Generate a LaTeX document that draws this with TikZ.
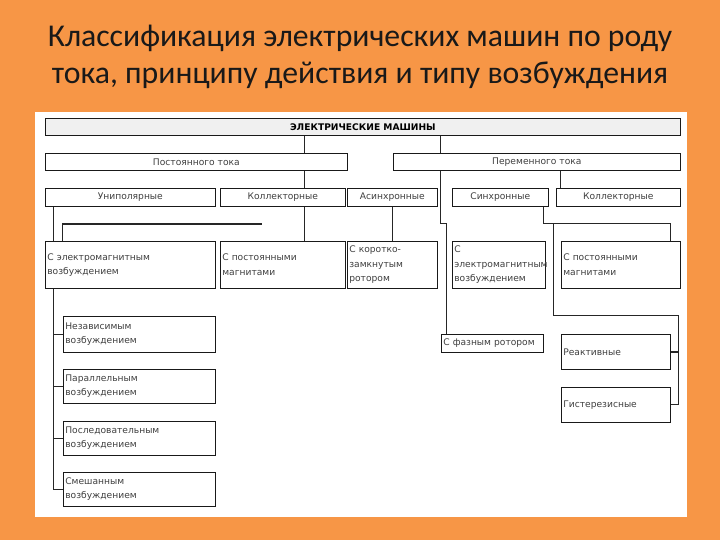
\documentclass[tikz,border=0pt]{standalone}
\usepackage{fontspec}
\setmainfont{Carlito}
\newfontfamily\diagfont{DejaVu Sans}
\usepackage{tikz}
\usetikzlibrary{positioning,shadows}
\definecolor{bgorange}{HTML}{F79646}
\newcommand\boxfont{\diagfont\fontsize{6.85}{10.8}\selectfont}

\tikzset{
  boxw/.style={minimum width=#1*0.75pt},
  boxh/.style={minimum height=#1*0.75pt},
  box/.style={draw=black!90, line width=0.5pt, fill=white, anchor=north west,
    inner sep=1.5pt, font=\boxfont, text=black!75,
    drop shadow={shadow xshift=0.5pt, shadow yshift=-0.5pt, fill=black!85, opacity=1}},
  lbox/.style={box, boxw=#1, text width=#1*0.75pt-3pt, align=left},
  link/.style={draw=black!85, line width=0.6pt},
  title/.style={font=\fontsize{23.8}{27.8}\selectfont, text=black!90, align=center}
}

\begin{document}
\begin{tikzpicture}[x=0.75pt,y=-0.75pt]
\useasboundingbox[fill=bgorange] (0,0) rectangle (720,540);
\fill[white] (35,112) rectangle (687,517);

\node[title] (ttl) at (360,57) {Классификация электрических машин по роду\\тока, принципу действия и типу возбуждения};

\node[box, boxw=635, boxh=17, fill=black!6, font=\boxfont\bfseries, text=black] (em) at (45,118) {ЭЛЕКТРИЧЕСКИЕ МАШИНЫ};

\node[box, boxw=302, boxh=17] (dc) at (45,153) {Постоянного тока};
\node[box, boxw=287, boxh=17] (ac) at (393,153) {Переменного тока};

\node[box, boxw=170, boxh=18] (unip) at (45,188) {Униполярные};
\node[box, boxw=125, boxh=18] (coll1) at (220,188) {Коллекторные};
\node[box, boxw=90, boxh=18] (async) at (347,188) {Асинхронные};
\node[box, boxw=96, boxh=18] (sync) at (452,188) {Синхронные};
\node[box, boxw=124, boxh=18] (coll2) at (556,188) {Коллекторные};

\node[lbox=170, boxh=47] (em1) at (45,241) {С электромагнитным\\возбуждением};
\node[lbox=125, boxh=47] (pm1) at (220,241) {С постоянными\\магнитами};
\node[lbox=90, boxh=47] (sqc) at (347,241) {С коротко-\\замкнутым\\ротором};
\node[lbox=93, boxh=47] (em2) at (452,241) {С\\электромагнитным\\возбуждением};
\node[lbox=119, boxh=47] (pm2) at (561,241) {С постоянными\\магнитами};

\node[lbox=102, boxh=18] (phase) at (441,334) {С фазным ротором};
\node[lbox=109, boxh=35] (reac) at (561,334) {Реактивные};
\node[lbox=109, boxh=35] (hyst) at (561,387) {Гистерезисные};

\node[lbox=152, boxh=36] (ind) at (63,316) {Независимым\\возбуждением};
\node[lbox=152, boxh=34] (par) at (63,369) {Параллельным\\возбуждением};
\node[lbox=152, boxh=34] (ser) at (63,421) {Последовательным\\возбуждением};
\node[lbox=152, boxh=34] (mix) at (63,472) {Смешанным\\возбуждением};

\coordinate (c53) at (53,0);
\coordinate (c62) at (62,0);
\coordinate (c262) at (262,0);
\coordinate (c304) at (304,0);
\coordinate (c440) at (440,0);
\coordinate (c446) at (446,0);
\coordinate (c543) at (543,0);
\coordinate (c553) at (553,0);
\coordinate (c560) at (560,0);
\coordinate (c670) at (670,0);
\coordinate (c678) at (678,0);
\coordinate (r223) at (0,223);
\coordinate (r224) at (0,224);
\coordinate (r315) at (0,315);

\draw[link] (em.south -| c304) -- (dc.north -| c304);
\draw[link] (dc.south -| c304) -- (coll1.north -| c304);
\draw[link] (coll1.south -| c304) -- (pm1.north -| c304);

\draw[link] (em.south -| c440) -- (ac.north -| c440);
\draw[link] (ac.south -| c440) -- (c440 |- r223) -- (c446 |- r223) -- (phase.north -| c446);
\draw[link] (async.south) -- (sqc.north);
\draw[link] (ac.south -| c560) -- (coll2.north -| c560);
\draw[link] (sync.south -| c543) -- (c543 |- r223) -- (c670 |- r223) -- (pm2.north -| c670);
\draw[link] (c553 |- r223) -- (c553 |- r315) -- (c678 |- r315) -- (hyst.east -| c678) -- (hyst.east);
\draw[link, line width=1.2pt] (reac.east) -- (reac.east -| c678);

\draw[link] (unip.south -| c53) -- (em1.north -| c53);
\draw[link] (em1.south -| c53) -- (c53 |- mix.west) -- (mix.west);
\draw[link] (c53 |- ind.west) -- (ind.west);
\draw[link] (c53 |- par.west) -- (par.west);
\draw[link] (c53 |- ser.west) -- (ser.west);
\draw[link, line width=1.6pt] (c62 |- r224) -- (c262 |- r224);
\draw[link] (c62 |- r224) -- (em1.north -| c62);
\end{tikzpicture}
\end{document}
